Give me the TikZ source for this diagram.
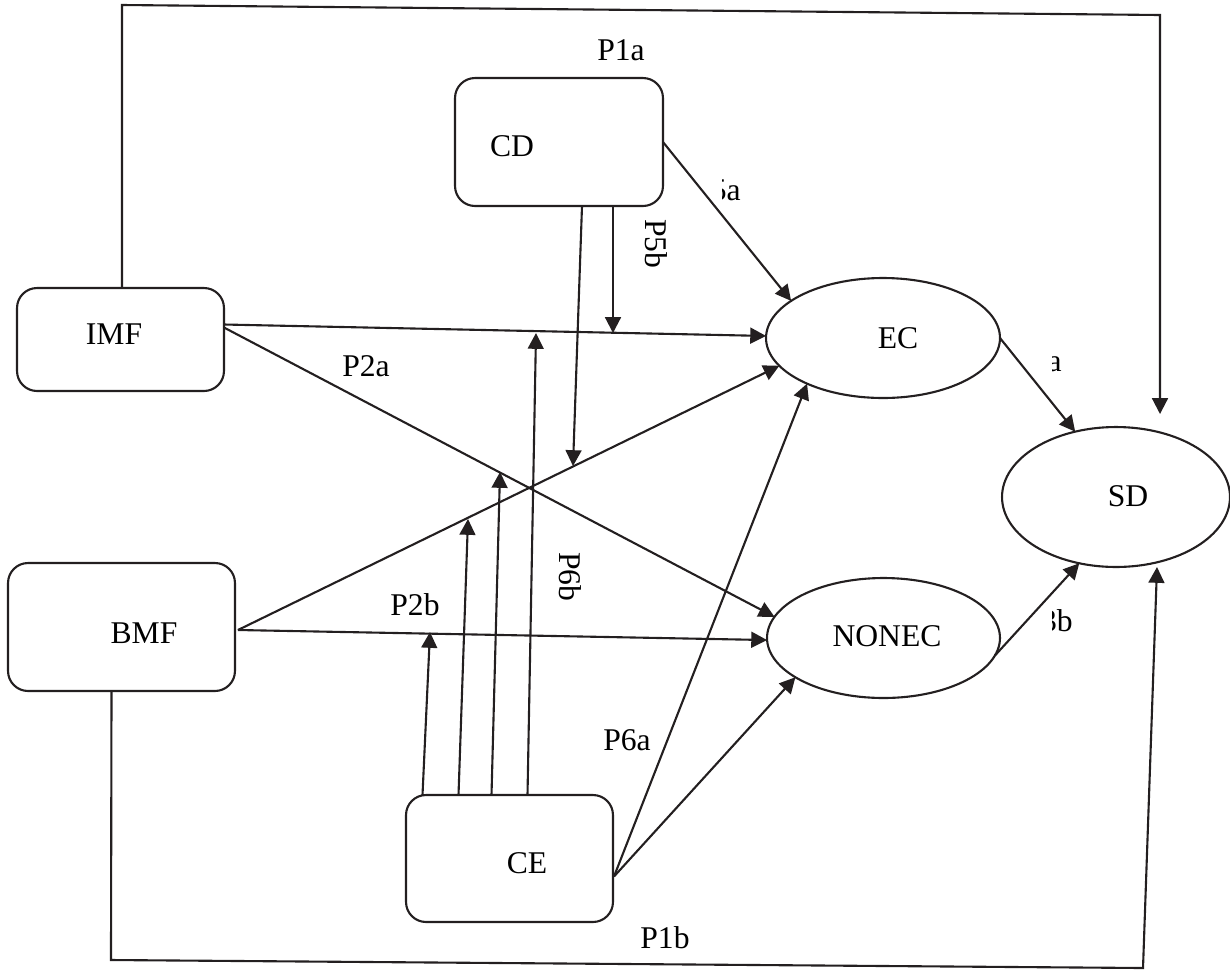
\documentclass[tikz,border=0pt]{standalone}
\usepackage{fontspec}
\setmainfont{Liberation Serif}
\usetikzlibrary{arrows.meta,shapes.geometric,calc}
\definecolor{ink}{RGB}{35,31,32}
\begin{document}
\begin{tikzpicture}[x=0.02cm,y=-0.02cm,
  conn/.style={draw=ink,line width=1.2pt},
  arr/.style={conn,-{Triangle[length=9pt,width=9pt]}},
  box/.style={draw=ink,line width=1.2pt,rounded corners=0.4cm,inner sep=0pt,outer sep=0pt},
  ell/.style={draw=ink,line width=1.2pt,ellipse,inner sep=0pt,outer sep=0pt},
  txt/.style={font=\fontsize{18}{21}\selectfont,text=black,inner sep=0pt}]
\useasboundingbox (0,0) rectangle (1230,971);

% boxes
\node[box,minimum width=4.16cm,minimum height=2.56cm] (CD) at (559,142) {};
\node[txt] (CDt) at (512,146) {CD};
\node[box,minimum width=4.14cm,minimum height=2.06cm] (IMF) at (120.5,339.5) {};
\node[txt] (IMFt) at (114,334) {IMF};
\node[box,minimum width=4.54cm,minimum height=2.56cm] (BMF) at (121.5,627) {};
\node[txt] (BMFt) at (144,633) {BMF};
\node[box,minimum width=4.14cm,minimum height=2.54cm] (CE) at (509.5,858.5) {};
\node[txt] (CEt) at (527,863) {CE};

% ellipses
\node[ell,minimum width=4.68cm,minimum height=2.4cm] (EC) at (883,338) {};
\node[txt] (ECt) at (898,338) {EC};
\node[ell,minimum width=4.66cm,minimum height=2.4cm] (NONEC) at (883.5,638) {};
\node[txt] (NONECt) at (887,636) {NONEC};
\node[ell,minimum width=4.56cm,minimum height=2.8cm] (SD) at (1116,497) {};
\node[txt] (SDt) at (1128,496) {SD};

% direct paths
\draw[arr] (CD.east) -- (EC.158);
\draw[arr] ($(IMF.east)+(0,-15)$) -- (EC.179);
\draw[arr] ($(IMF.east)+(0,-12)$) -- (NONEC.169);
\draw[arr] ($(BMF.east)+(3,3)$) -- (EC.195);
\draw[arr] ($(BMF.east)+(3,3)$) -- (NONEC.181);
\draw[arr] ($(CE.east)+(1,18)$) -- (EC.211);
\draw[arr] ($(CE.east)+(1,18)$) -- (NONEC.204);
\draw[arr] (EC.east) -- (SD.122);
\draw[arr] (NONEC.351) -- (SD.241);

% long loops
\draw[arr] ($(IMF.north)+(1.5,0)$) -- (122,5) -- (1160,15) -- ($(SD.north)+(44,-13)$);
\draw[arr] ($(BMF.south)+(-10,0)$) -- (111,960) -- (1143,968) -- ($(SD.south)+(41,0)$);

% moderating arrows
\coordinate (m5b) at (613,333);
\draw[arr] ($(CD.south)+(54,0)$) -- (m5b);
\coordinate (m6b) at (573,466);
\draw[arr] ($(CD.south)+(23,0)$) -- (m6b);
\coordinate (m2b) at (430,632);
\draw[arr] ($(CE.north)+(-87,0)$) -- (m2b);
\coordinate (mBE) at (468,519);
\draw[arr] ($(CE.north)+(-51,0)$) -- (mBE);
\coordinate (m2a) at (500,472);
\draw[arr] ($(CE.north)+(-18,0)$) -- (m2a);
\coordinate (mIE) at (536,333);
\draw[arr] ($(CE.north)+(18,0)$) -- (mIE);

% labels
\node[txt] (lP1a) at (621,50) {P1a};
\node[txt] (lP2a) at (366,366) {P2a};
\node[txt] (lP2b) at (415,605) {P2b};
\node[txt] (lP6a) at (627,740) {P6a};
\node[txt] (lP1b) at (665,938) {P1b};
\node[txt,rotate=-90] (lP5b) at (656,244) {P5b};
\node[txt,rotate=-90] (lP6b) at (570,577) {P6b};

% partly hidden labels
\begin{scope}
\clip (722,160) rectangle (770,220);
\node[txt,anchor=east] (lP5a) at (741,190) {P5a};
\end{scope}
\begin{scope}
\clip (1052,330) rectangle (1100,390);
\node[txt,anchor=east] (lP3a) at (1062,361) {P3a};
\end{scope}
\begin{scope}
\clip (1052,595) rectangle (1100,650);
\node[txt,anchor=east] (lP3b) at (1073,621) {P3b};
\end{scope}
\end{tikzpicture}
\end{document}
